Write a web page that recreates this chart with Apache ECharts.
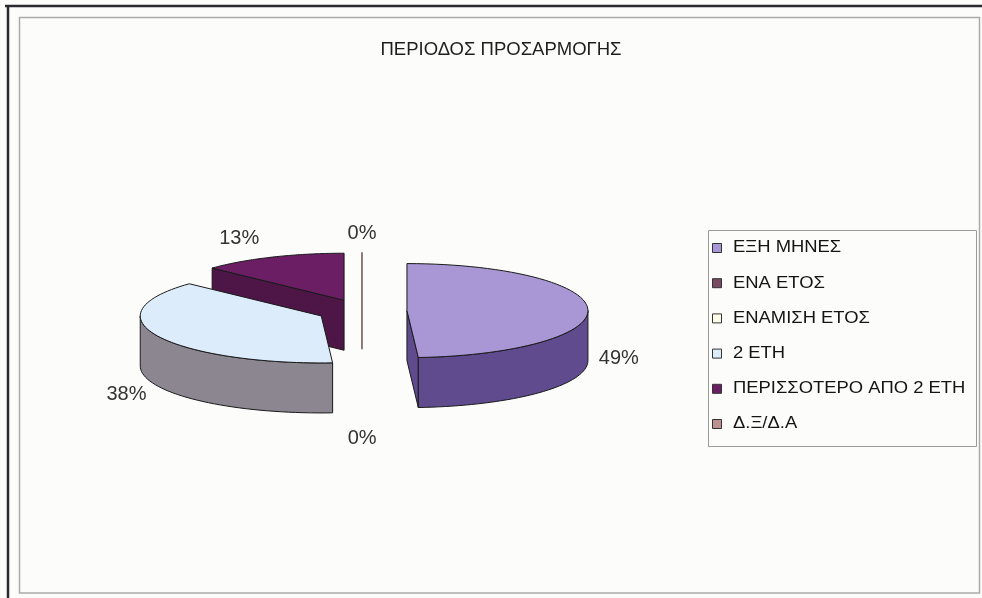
<!DOCTYPE html>
<html>
<head>
    <meta charset="utf-8">
    <title>ΠΕΡΙΟΔΟΣ ΠΡΟΣΑΡΜΟΓΗΣ</title>
    <script src="https://cdn.jsdelivr.net/npm/echarts@6/dist/echarts.min.js"></script>
</head>
<style>
    html, body, #main {
        width: 100%;
        height: 100%;
        margin: 0;
        background: #fcfdfb;
    }
</style>
<body>
<div id='main'></div>
<script>
    // data (percent of answers)
    var categories = ['ΕΞΗ ΜΗΝΕΣ', 'ΕΝΑ ΕΤΟΣ', 'ΕΝΑΜΙΣΗ ΕΤΟΣ', '2 ΕΤΗ', 'ΠΕΡΙΣΣΟΤΕΡΟ ΑΠΟ 2 ΕΤΗ', 'Δ.Ξ/Δ.Α'];
    var values = [49, 0, 0, 38, 13, 0];

    // palette: top face / side wall of each slice
    var topColors = ['#a996d5', '#7a4a62', '#fdfde8', '#dcecfa', '#6b1e64', '#c0908f'];
    var sideColors = ['#5f4b8e', '#5a3046', '#d8d8c0', '#8c8690', '#4d1647', '#906060'];

    var total = 0;
    for (var k = 0; k < values.length; k++) total += values[k];

    function sliceAngles(i) {
        var before = 0;
        for (var k = 0; k < i; k++) before += values[k];
        var a0 = before / total * 2 * Math.PI;
        var a1 = (before + values[i]) / total * 2 * Math.PI;
        return {a0: a0, a1: a1, mid: (a0 + a1) / 2};
    }

    // pseudo 3d exploded pie, angles measured clockwise from 12 o'clock
    function renderSlice(params, api) {
        var i = params.dataIndex;
        var val = api.value(0);
        var W = api.getWidth(), H = api.getHeight();
        var cx0 = W * 0.3686, cy0 = H * 0.52;
        var rx = 181, ry = 47, depth = 50, explode = 45;
        var g = sliceAngles(i);
        var cx = cx0 + explode * Math.sin(g.mid);
        var cy = cy0 - explode * (ry / rx) * Math.cos(g.mid);
        var pt = function (a, t, d) {
            return [cx + t * rx * Math.sin(a), cy - t * ry * Math.cos(a) + (d || 0)];
        };
        var z = Math.round((1 - Math.cos(g.mid)) * 100);
        var edge = '#1a1a1a';
        var children = [];

        if (val > 0) {
            // radial faces facing the viewer
            [[g.a0, Math.sin(g.a0) < -0.01], [g.a1, Math.sin(g.a1) > 0.01]].forEach(function (f) {
                if (!f[1]) return;
                var r = pt(f[0], 1), c = pt(0, 0);
                children.push({
                    type: 'polygon', z2: z,
                    shape: {points: [c, r, [r[0], r[1] + depth], [c[0], c[1] + depth]]},
                    style: {fill: sideColors[i], stroke: edge, lineWidth: 1}
                });
            });
            // outer wall, front half only
            var s = Math.max(g.a0, Math.PI / 2), e = Math.min(g.a1, Math.PI * 1.5);
            if (e > s) {
                var wall = [], n = 40, j;
                for (j = 0; j <= n; j++) wall.push(pt(s + (e - s) * j / n, 1));
                for (j = n; j >= 0; j--) wall.push(pt(s + (e - s) * j / n, 1, depth));
                children.push({
                    type: 'polygon', z2: z + 1,
                    shape: {points: wall},
                    style: {fill: sideColors[i], stroke: edge, lineWidth: 1}
                });
            }
            // top face
            var top = [pt(0, 0)], m = 60;
            for (var t = 0; t <= m; t++) top.push(pt(g.a0 + (g.a1 - g.a0) * t / m, 1));
            children.push({
                type: 'polygon', z2: z + 2,
                shape: {points: top},
                style: {fill: topColors[i], stroke: edge, lineWidth: 1}
            });
        } else if (Math.cos(g.a0) > 0) {
            // empty slice at the back shows as a thin line
            var r0 = pt(g.a0, 1), c0 = pt(0, 0);
            children.push({
                type: 'polyline', z2: z,
                shape: {points: [r0, [c0[0], c0[1] + depth]]},
                style: {stroke: '#6a5048', lineWidth: 1.5, fill: null}
            });
        }

        // percent label (empty neighbours share one spot, draw it once)
        var dup = val === 0 && i > 0 && values[i - 1] === 0;
        if (!dup) {
            var rim = pt(g.mid, 1);
            var sn = Math.sin(g.mid), cs = Math.cos(g.mid);
            var lx, ly;
            if (cs > 0.3) {
                lx = rim[0] + (Math.abs(sn) > 0.2 ? 33 * Math.sign(sn) : 0);
                ly = rim[1] - 19;
            } else {
                lx = rim[0] + (Math.abs(sn) > 0.2 ? 31 * Math.sign(sn) : -14);
                ly = rim[1] + depth + 19 * (-cs);
            }
            children.push({
                type: 'text', z2: 500,
                style: {
                    text: Math.round(val / total * 100) + '%',
                    x: lx, y: ly, align: 'center', verticalAlign: 'middle',
                    fill: '#333', fontSize: 20, fontFamily: 'Liberation Sans'
                }
            });
        }

        return {type: 'group', children: children};
    }

    // legend drawn as graphics so the text can be stretched like the original
    var legendItems = [{
        type: 'rect', shape: {x: 708.5, y: 230.5, width: 268, height: 216},
        style: {fill: null, stroke: '#9a9a9a', lineWidth: 1}
    }];
    categories.forEach(function (name, i) {
        var yc = 248 + i * 35.2;
        legendItems.push({
            type: 'rect', shape: {x: 712.5, y: yc - 4.5, width: 9, height: 9},
            style: {fill: topColors[i], stroke: '#333', lineWidth: 1}
        });
        legendItems.push({
            type: 'text', x: 733, y: yc, scaleX: 1.15,
            style: {
                text: name, x: 0, y: 0, verticalAlign: 'middle',
                fill: '#141414', fontSize: 16, fontFamily: 'Liberation Sans'
            }
        });
    });

    var chart = echarts.init(document.getElementById('main'));
    var option = {
        backgroundColor: '#fcfdfb',
        animation: false,
        title: {
            text: 'ΠΕΡΙΟΔΟΣ ΠΡΟΣΑΡΜΟΓΗΣ',
            left: 496, top: 35, textAlign: 'center',
            textStyle: {fontSize: 18.5, fontWeight: 'normal', color: '#1e1e1e', fontFamily: 'Liberation Sans'}
        },
        graphic: [
            // outer frame
            {type: 'line', shape: {x1: 5, y1: 6, x2: 982, y2: 6}, style: {stroke: '#2a2a30', lineWidth: 2.5}},
            {type: 'line', shape: {x1: 8, y1: 5, x2: 8, y2: 598}, style: {stroke: '#2a2a30', lineWidth: 2.5}},
            // chart area border
            {type: 'rect', shape: {x: 19.5, y: 17.5, width: 960, height: 575.5},
                style: {fill: null, stroke: '#aaaaaa', lineWidth: 1.5}},
            {type: 'group', children: legendItems}
        ],
        series: [{
            type: 'custom',
            coordinateSystem: 'none',
            silent: true,
            renderItem: renderSlice,
            data: values.map(function (v, i) {
                return {name: categories[i], value: [v]};
            })
        }]
    };
    chart.setOption(option);

    window.onresize = chart.resize;
</script>
</body>
</html>
